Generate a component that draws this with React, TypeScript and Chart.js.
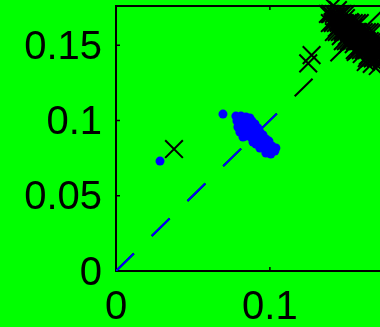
import React, { useEffect, useRef } from 'react';
import { Chart, registerables } from 'chart.js';

Chart.register(...registerables);

const xTickValues = [0, 0.1];
const xTickLabels = ['0', '0.1'];
const yTickValues = [0, 0.05, 0.1, 0.15];
const yTickLabels = ['0', '0.05', '0.1', '0.15'];
const xRange = [0, 0.18];
const yRange = [0, 0.176];

const blueX = [
  0.0286, 0.0695, 0.0779, 0.0812, 0.0844, 0.0870, 0.0786, 0.0818, 0.0851, 0.0883,
  0.0903, 0.0792, 0.0825, 0.0857, 0.0890, 0.0922, 0.0805, 0.0838, 0.0870, 0.0903,
  0.0935, 0.0955, 0.0825, 0.0844, 0.0877, 0.0909, 0.0942, 0.0974, 0.0994, 0.0890,
  0.0909, 0.0922, 0.0955, 0.0987, 0.1013, 0.0935, 0.0968, 0.1000, 0.1032, 0.1039,
  0.0974, 0.1006,
];
const blueY = [
  0.0730, 0.1042, 0.1029, 0.1029, 0.1023, 0.1016, 0.0996, 0.0996, 0.0989, 0.0996,
  0.0976, 0.0956, 0.0963, 0.0956, 0.0956, 0.0950, 0.0923, 0.0930, 0.0923, 0.0916,
  0.0923, 0.0903, 0.0890, 0.0896, 0.0890, 0.0883, 0.0883, 0.0877, 0.0863, 0.0857,
  0.0843, 0.0850, 0.0843, 0.0837, 0.0830, 0.0817, 0.0810, 0.0804, 0.0797, 0.0817,
  0.0784, 0.0777,
];

// outliers and fringe of the black cluster
const blackX = [
  0.0377, 0.1249, 0.1271, 0.1409, 0.1442, 0.1390, 0.1429, 0.1468, 0.1494, 0.1409,
  0.1448, 0.1487, 0.1519, 0.1435, 0.1474, 0.1513, 0.1545, 0.1571, 0.1461, 0.1500,
  0.1532, 0.1565, 0.1597, 0.1623, 0.1506, 0.1545, 0.1584, 0.1617, 0.1649, 0.1675,
  0.1558, 0.1597, 0.1636, 0.1669, 0.1701, 0.1623, 0.1662, 0.1701, 0.1714, 0.1740,
  0.1727,
  // dense core
  0.1377, 0.1396, 0.1416, 0.1435, 0.1455, 0.1474, 0.1494,
  0.1390, 0.1409, 0.1429, 0.1448, 0.1468, 0.1487, 0.1506, 0.1526, 0.1545, 0.1565, 0.1584,
  0.1416, 0.1435, 0.1455, 0.1474, 0.1494, 0.1513, 0.1532, 0.1552, 0.1571, 0.1591, 0.1610, 0.1630, 0.1649, 0.1669,
  0.1474, 0.1494, 0.1513, 0.1532, 0.1552, 0.1571, 0.1591, 0.1610, 0.1630, 0.1649, 0.1669, 0.1688, 0.1708, 0.1727,
  0.1552, 0.1571, 0.1591, 0.1610, 0.1630, 0.1649, 0.1669, 0.1688, 0.1708, 0.1727, 0.1747,
  0.1630, 0.1649, 0.1669, 0.1688, 0.1708, 0.1727, 0.1747,
];
const blackY = [
  0.0810, 0.1379, 0.1434, 0.1760, 0.1733, 0.1707, 0.1693, 0.1707, 0.1680, 0.1653,
  0.1653, 0.1640, 0.1653, 0.1614, 0.1600, 0.1600, 0.1614, 0.1587, 0.1560, 0.1560,
  0.1547, 0.1534, 0.1560, 0.1534, 0.1507, 0.1507, 0.1494, 0.1481, 0.1507, 0.1467,
  0.1454, 0.1441, 0.1428, 0.1414, 0.1441, 0.1388, 0.1375, 0.1361, 0.1534, 0.1467,
  0.1401,
  0.1707, 0.1707, 0.1707, 0.1707, 0.1707, 0.1707, 0.1707,
  0.1647, 0.1647, 0.1647, 0.1647, 0.1647, 0.1647, 0.1647, 0.1647, 0.1647, 0.1647, 0.1647,
  0.1587, 0.1587, 0.1587, 0.1587, 0.1587, 0.1587, 0.1587, 0.1587, 0.1587, 0.1587, 0.1587, 0.1587, 0.1587, 0.1587,
  0.1527, 0.1527, 0.1527, 0.1527, 0.1527, 0.1527, 0.1527, 0.1527, 0.1527, 0.1527, 0.1527, 0.1527, 0.1527, 0.1527,
  0.1467, 0.1467, 0.1467, 0.1467, 0.1467, 0.1467, 0.1467, 0.1467, 0.1467, 0.1467, 0.1467,
  0.1414, 0.1414, 0.1414, 0.1414, 0.1414, 0.1414, 0.1414,
];

const blueLineEnds = [0, 0.105];
const blackLineEnds = [0, 0.18];

const BG = '#00ff00';
const FONT = "'Liberation Sans', Arial, Helvetica, sans-serif";

const framePlugin = {
  id: 'frame',
  beforeDraw(chart: any) {
    const { ctx, width, height } = chart;
    ctx.save();
    ctx.fillStyle = BG;
    ctx.fillRect(0, 0, width, height);
    ctx.restore();
  },
  beforeDatasetsDraw(chart: any) {
    const { ctx, chartArea, scales } = chart;
    const { left, right, top, bottom } = chartArea;
    ctx.save();
    ctx.strokeStyle = '#000';
    ctx.lineWidth = 2;
    ctx.beginPath();
    ctx.moveTo(right, top);
    ctx.lineTo(left, top);
    ctx.lineTo(left, bottom);
    ctx.lineTo(right, bottom);
    ctx.lineTo(right, top);
    ctx.stroke();
    ctx.lineWidth = 1.5;
    ctx.beginPath();
    const tl = 4;
    scales.y.ticks.forEach((t: any) => {
      const py = scales.y.getPixelForValue(t.value);
      ctx.moveTo(left, py);
      ctx.lineTo(left + tl, py);
      ctx.moveTo(right, py);
      ctx.lineTo(right - tl, py);
    });
    scales.x.ticks.forEach((t: any) => {
      const px = scales.x.getPixelForValue(t.value);
      ctx.moveTo(px, bottom);
      ctx.lineTo(px, bottom - tl);
      ctx.moveTo(px, top);
      ctx.lineTo(px, top + tl);
    });
    ctx.stroke();
    ctx.restore();
  },
};

export default function App() {
  const ref = useRef<HTMLCanvasElement | null>(null);

  useEffect(() => {
    document.body.style.background = BG;
    document.body.style.overflow = 'hidden';
    const canvas = ref.current;
    if (!canvas) return;
    const chart = new Chart(canvas, {
      type: 'scatter',
      data: {
        datasets: [
          {
            label: 'blue',
            data: blueX.map((x, i) => ({ x, y: blueY[i] })),
            pointStyle: 'circle',
            pointRadius: 4.5,
            pointBackgroundColor: '#0000ff',
            pointBorderWidth: 0,
            backgroundColor: '#0000ff',
            borderWidth: 0,
            order: 1,
          },
          {
            label: 'black',
            data: blackX.map((x, i) => ({ x, y: blackY[i] })),
            pointStyle: 'crossRot',
            pointRadius: 12.5,
            pointBorderColor: '#000000',
            borderColor: '#000000',
            pointBorderWidth: 2,
            borderWidth: 2,
            clip: false,
            order: 2,
          },
          {
            label: 'blueLine',
            data: blueLineEnds.map((v) => ({ x: v, y: v })),
            showLine: true,
            borderColor: '#0000ff',
            borderWidth: 2,
            borderDash: [25, 25],
            pointRadius: 0,
            order: 3,
          },
          {
            label: 'blackLine',
            data: blackLineEnds.map((v) => ({ x: v, y: v })),
            showLine: true,
            borderColor: '#000000',
            borderWidth: 2,
            borderDash: [25, 25],
            pointRadius: 0,
            order: 4,
          },
        ],
      },
      options: {
        animation: false,
        responsive: false,
        events: [],
        layout: { autoPadding: false, padding: { top: 6, right: 7, left: 0, bottom: 0 } },
        plugins: { legend: { display: false }, tooltip: { enabled: false } },
        scales: {
          x: {
            type: 'linear',
            min: xRange[0],
            max: xRange[1],
            grid: { display: false, drawTicks: false },
            border: { display: false },
            afterBuildTicks: (s: any) => {
              s.ticks = xTickValues.map((v) => ({ value: v }));
            },
            afterFit: (s: any) => {
              s.height = 56;
              s.paddingLeft = 0;
              s.paddingRight = 0;
            },
            ticks: {
              padding: 13,
              maxRotation: 0,
              autoSkip: false,
              color: '#000',
              font: { family: FONT, size: 40 },
              callback: (v: any) => {
                const i = xTickValues.indexOf(Number(v));
                return i >= 0 ? xTickLabels[i] : '';
              },
            },
          },
          y: {
            type: 'linear',
            min: yRange[0],
            max: yRange[1],
            grid: { display: false, drawTicks: false },
            border: { display: false },
            afterBuildTicks: (s: any) => {
              s.ticks = yTickValues.map((v) => ({ value: v }));
            },
            afterFit: (s: any) => {
              s.width = 116;
              s.paddingTop = 0;
              s.paddingBottom = 0;
            },
            ticks: {
              padding: 14,
              labelOffset: 2.5,
              autoSkip: false,
              color: '#000',
              font: { family: FONT, size: 40 },
              callback: (v: any) => {
                const i = yTickValues.indexOf(Number(v));
                return i >= 0 ? yTickLabels[i] : '';
              },
            },
          },
        },
      },
      plugins: [framePlugin],
    });
    return () => chart.destroy();
  }, []);

  return (
    <div style={{ position: 'fixed', left: 0, top: 0, width: 380, height: 327, overflow: 'hidden', background: BG }}>
      <canvas ref={ref} width={400} height={327} style={{ width: 400, height: 327, display: 'block' }} />
    </div>
  );
}
